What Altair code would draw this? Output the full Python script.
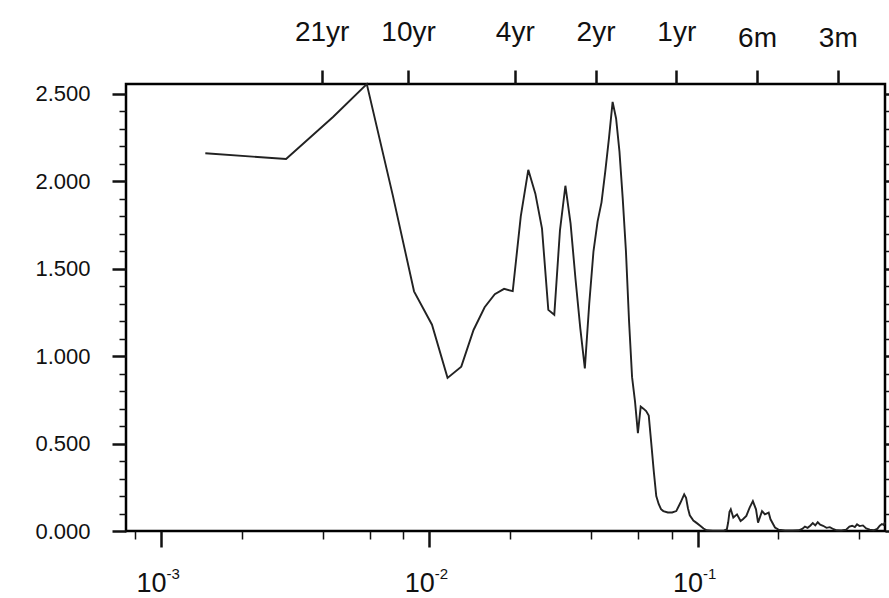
import altair as alt
import pandas as pd

# Spectrum of a monthly series (N = 684 months); frequency = k / N cycles per month
N_MONTHS = 684
harmonic = [
    1, 2, 3, 4, 5, 6, 7, 8, 9, 10, 11, 12, 13, 14, 15, 16, 17, 18, 19, 20,
    21, 22, 23, 24, 25, 26, 27, 28, 29, 30, 31, 32, 33, 34, 35, 36, 37, 38, 39, 40,
    41, 42, 43, 44, 45, 46, 47, 48, 49, 50, 51, 53, 55, 57, 59, 61, 62, 63, 64, 66,
    68, 70, 72, 74, 78, 82, 86, 88, 89, 90, 91, 93, 96, 99, 101, 104, 107, 110, 113, 115,
    119, 122, 126, 128, 133, 137, 145, 155, 163, 168, 172, 176, 180, 184, 188, 192, 196, 201, 207, 213,
    220, 226, 235, 245, 252, 258, 264, 269, 275, 283, 291, 300, 310, 320, 327, 333, 338, 342,
]
power = [
    2.161, 2.128, 2.37, 2.557, 1.92, 1.371, 1.18, 0.876, 0.94, 1.15, 1.28, 1.355, 1.385, 1.372, 1.80, 2.066, 1.93, 1.73, 1.265, 1.237,
    1.72, 1.975, 1.76, 1.44, 1.16, 0.93, 1.30, 1.60, 1.77, 1.88, 2.06, 2.25, 2.455, 2.36, 2.17, 1.90, 1.60, 1.20, 0.88, 0.74,
    0.56, 0.712, 0.70, 0.686, 0.66, 0.50, 0.34, 0.20, 0.155, 0.125, 0.114, 0.106, 0.106, 0.114, 0.16, 0.21, 0.19, 0.13, 0.09, 0.06,
    0.045, 0.03, 0.014, 0.004, 0.002, 0.002, 0.003, 0.01, 0.05, 0.11, 0.124, 0.077, 0.095, 0.057, 0.067, 0.086, 0.134, 0.171, 0.124, 0.048,
    0.114, 0.095, 0.105, 0.067, 0.02, 0.008, 0.003, 0.003, 0.004, 0.012, 0.025, 0.018, 0.03, 0.045, 0.032, 0.05, 0.036, 0.03, 0.018, 0.022,
    0.01, 0.004, 0.003, 0.008, 0.025, 0.03, 0.022, 0.038, 0.028, 0.032, 0.015, 0.008, 0.004, 0.012, 0.03, 0.04, 0.035, 0.05,
]

# Axis tick positions
x_major = [1e-3, 1e-2, 1e-1]
x_minor = [8e-4, 2e-3, 4e-3, 6e-3, 8e-3, 2e-2, 4e-2, 6e-2, 8e-2, 2e-1, 4e-1]
period_months = [252, 120, 48, 24, 12, 6, 3]
y_major = [0.0, 0.5, 1.0, 1.5, 2.0, 2.5]
y_minor = [round(i * 0.1, 1) for i in range(26) if i % 5 != 0]

X_DOMAIN = [7.4e-4, 0.5]
Y_DOMAIN = [0, max(power)]
FONT = "Liberation Sans"
INK = "#111111"

df = pd.DataFrame({"freq": [k / N_MONTHS for k in harmonic], "power": power})
period_freqs = [1.0 / p for p in period_months]

base = alt.Chart(df)
xs = alt.Scale(type="log", domain=X_DOMAIN, nice=False)
ys = alt.Scale(domain=Y_DOMAIN, nice=False, zero=True)


def x_enc(axis):
    return alt.X("freq:Q", scale=xs, axis=axis, title=None)


def y_enc(axis):
    return alt.Y("power:Q", scale=ys, axis=axis, title=None)


common = dict(grid=False, domain=False, tickColor=INK, labelColor=INK, labelFont=FONT)

# Spectrum line with major bottom ticks ("10" mantissa) and labelled left axis
line = base.mark_line(color="#222222", strokeWidth=1.9).encode(
    x=x_enc(alt.Axis(orient="bottom", values=x_major, tickSize=16, tickWidth=2.5,
                     labelExpr="'10'", labelFontSize=27, labelAlign="right", labelOffset=5,
                     labelPadding=23, **common)),
    y=y_enc(alt.Axis(orient="left", values=y_major, format=".3f", tickSize=14, tickWidth=2.5,
                     labelFontSize=22, labelPadding=22, **common)),
)

# Minor ticks on bottom and left
minor = base.mark_line(strokeOpacity=0).encode(
    x=x_enc(alt.Axis(orient="bottom", values=x_minor, tickSize=8, tickWidth=1.5,
                     labels=False, **common)),
    y=y_enc(alt.Axis(orient="left", values=y_minor, tickSize=7, tickWidth=1.5,
                     labels=False, **common)),
)

# Exponents of the decade labels, and minor ticks on the right edge
expo = base.mark_line(strokeOpacity=0).encode(
    x=x_enc(alt.Axis(orient="bottom", values=x_major, tickSize=16, tickOpacity=0,
                     labelExpr="'' + round(log(datum.value) / LN10)", labelFontSize=15,
                     labelAlign="left", labelOffset=5, labelPadding=19, **common)),
    y=y_enc(alt.Axis(orient="right", values=y_minor, tickSize=7, tickWidth=1.5,
                     labels=False, **common)),
)

# Period labels on top, major ticks on the right edge
top = base.mark_line(strokeOpacity=0).encode(
    x=x_enc(alt.Axis(orient="top", values=period_freqs, tickSize=14, tickWidth=2.5,
                     labelExpr="1 / datum.value >= 12 ? round(1 / datum.value / 12) + 'yr' : round(1 / datum.value) + 'm'",
                     labelFontSize=28, labelPadding=24,
                     labelBaseline={"condition": {"test": "1 / datum.value < 12", "value": "alphabetic"},
                                    "value": "bottom"},
                     **common)),
    y=y_enc(alt.Axis(orient="right", values=y_major, tickSize=14, tickWidth=2.5,
                     labels=False, **common)),
)

chart = (
    alt.layer(line, minor, expo, top)
    .resolve_axis(x="independent", y="independent")
    .properties(
        width=759,
        height=447,
        autosize=alt.AutoSizeParams(type="none"),
        padding={"left": 126, "top": 84, "right": 4, "bottom": 67},
        background="white",
    )
    .configure_view(stroke="black", strokeWidth=2.5)
)

chart.save("out.html", embed_options={"renderer": "svg", "actions": False})
